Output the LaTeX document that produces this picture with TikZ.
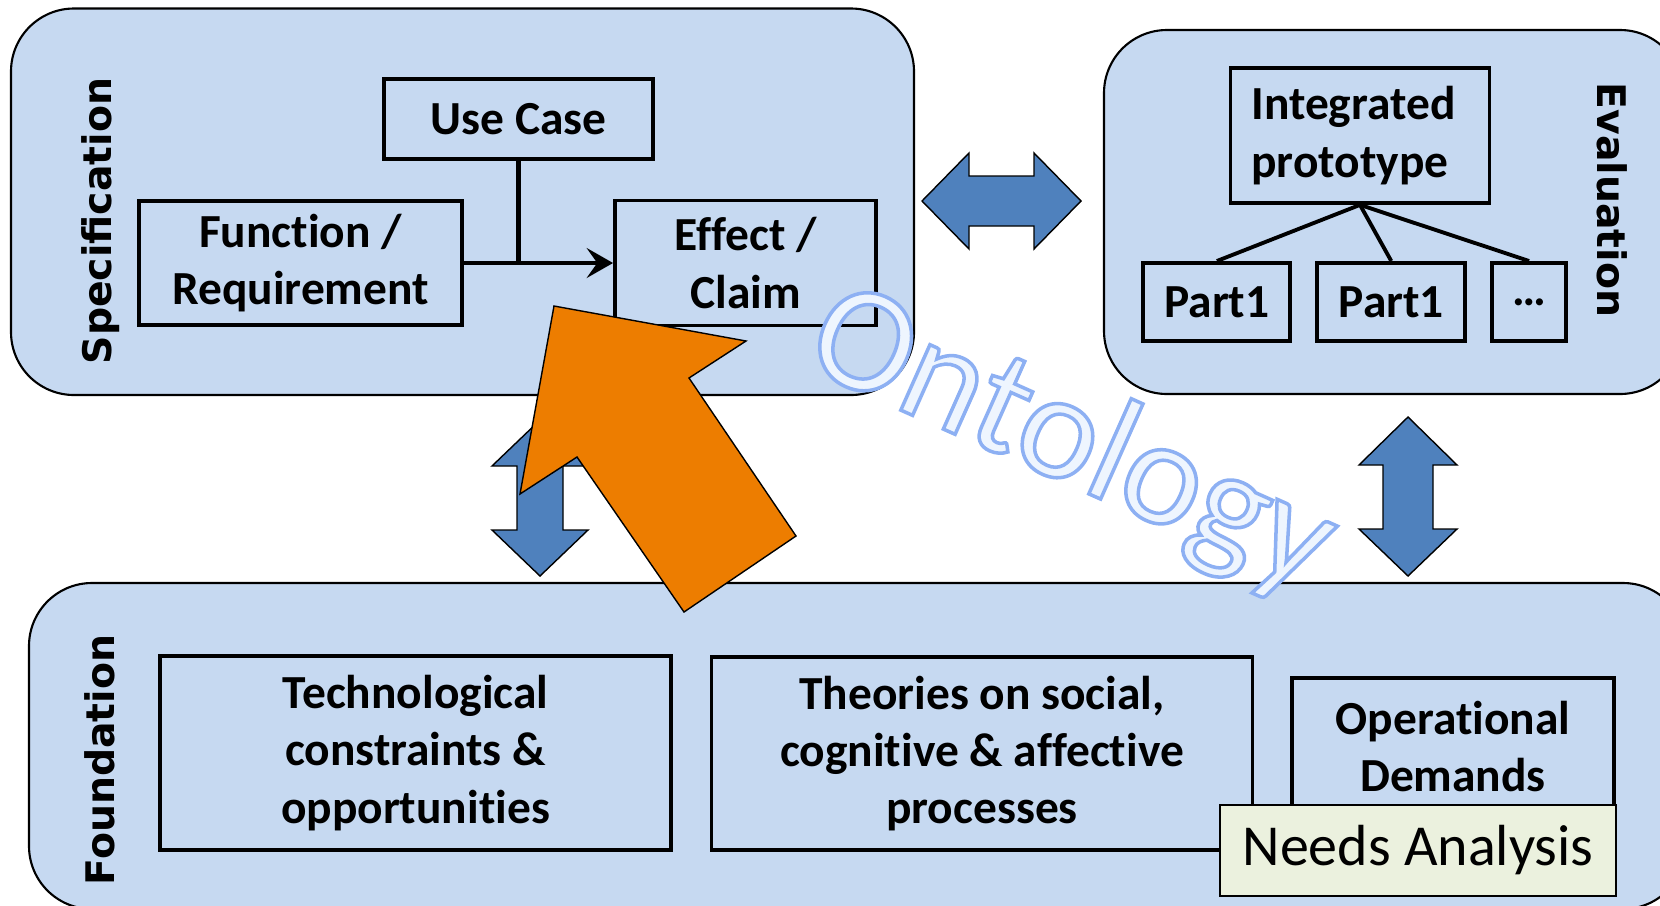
\documentclass[tikz,border=0pt]{standalone}
\usepackage{fontspec}
\setmainfont{Carlito}[Ligatures=NoCommon]
\newfontfamily\labelfont{DejaVu Sans}
\usepackage{tikz-qtree}
\usetikzlibrary{arrows.meta}

\definecolor{boxfill}{RGB}{198,217,241}
\definecolor{arrowblue}{RGB}{79,129,189}
\definecolor{arroworange}{RGB}{237,125,0}
\definecolor{needsfill}{RGB}{235,241,222}
\definecolor{ontfill}{RGB}{238,245,254}

\tikzset{
  panel/.style={draw=black, line width=0.6pt, fill=boxfill, rounded corners=0.63cm},
  box/.style={draw=black, line width=1.1pt, fill=boxfill, inner sep=0pt, align=center,
    font=\fontsize{13.5}{16.3}\selectfont\bfseries},
  sidelabel/.style={inner sep=0pt, font=\labelfont\fontsize{11.2}{13}\selectfont\bfseries},
  dblarrow/.style={draw=black, line width=0.4pt, fill=arrowblue},
  bigarrow/.style={draw=black, line width=0.4pt, fill=arroworange},
  link/.style={line width=1.4pt}
}

\begin{document}
\begin{tikzpicture}
	\useasboundingbox (0,0) rectangle (16.6,9.05);
	\clip (0,0) rectangle (16.6,9.05);

	% the three areas
	\node[panel, minimum width=9.03cm, minimum height=3.865cm] (spec) at (4.625,7.0325) {};
	\node[panel, minimum width=5.79cm, minimum height=3.64cm] (eval) at (13.935,6.93) {};
	\node[panel, minimum width=16.57cm, minimum height=3.26cm] (found) at (8.575,1.59) {};

	\node[sidelabel, rotate=90] (speclabel) at (1.01,6.84) {Specification};
	\node[sidelabel, rotate=-90] (evallabel) at (16.12,7.05) {Evaluation};
	\node[sidelabel, rotate=90] (foundlabel) at (1.00,1.45) {Foundation};

	% exchange between the areas
	\draw[dblarrow] (9.22,7.04) -- (9.69,7.52) -- (9.69,7.29) -- (10.34,7.29) -- (10.34,7.52)
		-- (10.81,7.04) -- (10.34,6.56) -- (10.34,6.79) -- (9.69,6.79) -- (9.69,6.56) -- cycle;
	\draw[dblarrow] (5.40,4.85) -- (5.88,4.39) -- (5.63,4.39) -- (5.63,3.75) -- (5.88,3.75)
		-- (5.40,3.29) -- (4.92,3.75) -- (5.17,3.75) -- (5.17,4.39) -- (4.92,4.39) -- cycle;
	\draw[dblarrow] (14.08,4.88) -- (14.57,4.40) -- (14.33,4.40) -- (14.33,3.76) -- (14.57,3.76)
		-- (14.08,3.29) -- (13.59,3.76) -- (13.83,3.76) -- (13.83,4.40) -- (13.59,4.40) -- cycle;

	% specification
	\node[box, minimum width=2.69cm, minimum height=0.80cm] (usecase) at (5.185,7.86) {Use Case};
	\node[box, minimum width=3.23cm, minimum height=1.24cm] (func) at (3.005,6.42) {Function /\\Requirement};
	\node[box, minimum width=2.61cm, minimum height=1.25cm] (effect) at (7.455,6.42) {Effect /\\Claim};
	\draw[link, -{Stealth[length=7.5pt, width=8.5pt, inset=3pt]}] (func) -- (effect);
	\draw[link] (usecase) -- (usecase |- func);

	% evaluation
	\begin{scope}[shift={(13.6,8.39)}]
	\tikzset{level distance=1.95cm, sibling distance=0.23cm,
		every tree node/.style={anchor=north},
		edge from parent/.style={draw, line width=1.1pt},
		edge from parent path={(\tikzparentnode.south) -- (\tikzchildnode.north)}}
	    \Tree [.\node[box, anchor=north, align=left, text width=2.17cm, minimum height=1.35cm, inner xsep=0.21cm](proto){Integrated\\prototype};
	            [.\node[box, anchor=north, xshift=0.13cm, minimum width=1.47cm, minimum height=0.78cm](part1){Part1}; ]
	            [.\node[box, anchor=north, xshift=0.13cm, minimum width=1.48cm, minimum height=0.78cm](part2){Part1}; ]
	            [.\node[box, anchor=north, xshift=0.13cm, minimum width=0.74cm, minimum height=0.78cm](more){…}; ]
	          ]
	\end{scope}

	% foundation
	\node[box, minimum width=5.11cm, minimum height=1.94cm] (techn) at (4.155,1.52) {Technological\\constraints \&\\opportunities};
	\node[box, minimum width=5.41cm, minimum height=1.93cm] (theory) at (9.82,1.515) {Theories on social,\\cognitive \& affective\\processes};
	\node[box, minimum width=3.225cm, minimum height=1.37cm] (operat) at (14.53,1.585) {Operational\\Demands};
	\node[draw=black, line width=0.5pt, fill=needsfill, minimum width=3.96cm, minimum height=0.91cm, inner sep=0pt,
		font=\fontsize{16.5}{19}\selectfont] (needs) at (14.18,0.545) {Needs Analysis};

	% the big arrow
	\draw[bigarrow] (5.54,5.99) -- (7.46,5.64) -- (6.89,5.27) -- (7.96,3.69) -- (6.84,2.93)
		-- (5.77,4.48) -- (5.20,4.11) -- cycle;

	% outlined word: fill and stroke
	\node[rotate=-24, inner sep=0pt, text=ontfill, font=\fontsize{42.7}{43}\selectfont] (onto) at (10.71,4.62)
		{\special{pdf:literal direct 2 Tr 1 w 0.553 0.690 0.953 RG}Ontology\special{pdf:literal direct 0 Tr}};
\end{tikzpicture}
\end{document}
